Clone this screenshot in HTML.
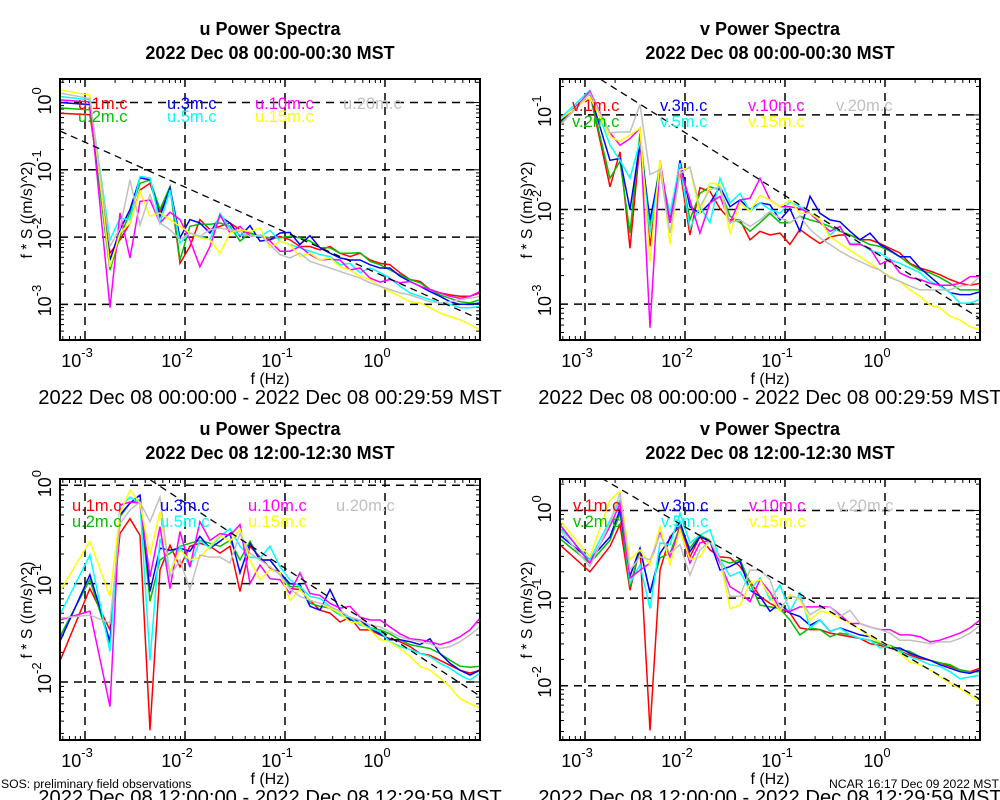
<!DOCTYPE html>
<html><head><meta charset="utf-8"><style>
html,body{margin:0;padding:0;background:#fff;}
svg{display:block;font-family:"Liberation Sans",Arial,sans-serif;}
</style></head><body>
<svg id="chart" width="1000" height="800" viewBox="0 0 1000 800">
<text x="1" y="788" font-size="12.2">SOS: preliminary field observations</text>
<text x="999" y="788" font-size="12.2" text-anchor="end">NCAR 16:17 Dec 09 2022 MST</text>
</svg>
<script>
// Shared frequency grid (Hz)
const freqHz = [5.6e-4,1.12e-3,1.78e-3,2.24e-3,2.82e-3,3.55e-3,4.47e-3,5.62e-3,7.08e-3,8.91e-3,0.0112,0.0141,0.0178,0.0224,0.0282,0.0355,0.0447,0.0562,0.0708,0.0891,0.112,0.141,0.178,0.224,0.282,0.355,0.447,0.562,0.708,0.891,1.12,1.41,1.78,2.24,2.82,3.55,4.47,5.62,7.08,8.91];
const seriesLabels = ["1m.c","2m.c","3m.c","5m.c","10m.c","15m.c","20m.c"];
const xTickExponents = [-3,-2,-1,0];

// Panel 1: u 00:00 (log10 of f*S)
const u00_1m=[-0.16,-0.18,-2.24,-2.04,-1.79,-1.30,-1.20,-1.64,-1.25,-2.39,-2.14,-1.74,-1.89,-1.84,-1.79,-1.89,-1.94,-1.99,-2.04,-1.99,-2.04,-2.14,-2.14,-2.19,-2.14,-2.24,-2.29,-2.24,-2.34,-2.39,-2.41,-2.53,-2.63,-2.66,-2.78,-2.83,-2.86,-2.88,-2.88,-2.83];
const u00_2m=[-0.08,-0.11,-2.49,-1.99,-1.64,-1.20,-1.15,-1.59,-1.25,-2.34,-1.84,-1.81,-1.81,-1.79,-1.84,-2.06,-1.94,-1.99,-2.01,-2.01,-1.99,-2.01,-2.06,-2.16,-2.16,-2.24,-2.24,-2.23,-2.36,-2.41,-2.49,-2.56,-2.63,-2.68,-2.78,-2.86,-2.91,-2.96,-2.98,-2.93];
const u00_3m=[0.00,-0.03,-2.34,-1.89,-1.59,-1.12,-1.15,-1.69,-1.27,-2.01,-1.74,-1.79,-1.94,-1.69,-1.79,-1.99,-1.83,-2.06,-2.04,-1.94,-1.93,-2.11,-1.98,-2.16,-2.24,-2.31,-2.34,-2.34,-2.41,-2.46,-2.46,-2.58,-2.66,-2.73,-2.81,-2.88,-2.96,-3.00,-3.00,-2.98];
const u00_5m=[0.09,0.04,-2.04,-1.72,-1.74,-1.10,-1.12,-1.79,-1.30,-2.09,-1.94,-1.99,-2.04,-1.65,-1.87,-1.97,-1.97,-1.99,-1.90,-2.06,-2.11,-2.16,-2.21,-2.26,-2.29,-2.41,-2.39,-2.53,-2.46,-2.53,-2.61,-2.73,-2.83,-2.88,-2.93,-2.98,-3.00,-3.05,-3.05,-3.03];
const u00_10m=[0.04,0.01,-3.05,-1.64,-2.31,-1.47,-1.45,-1.79,-1.63,-1.74,-2.04,-2.44,-2.14,-1.67,-1.94,-1.84,-1.99,-1.97,-2.06,-2.21,-2.21,-2.14,-2.26,-2.34,-2.33,-2.34,-2.49,-2.46,-2.61,-2.67,-2.63,-2.68,-2.66,-2.73,-2.78,-2.83,-2.88,-2.91,-2.88,-2.81];
const u00_15m=[0.19,0.11,-2.44,-1.94,-1.79,-1.32,-1.69,-1.64,-1.74,-1.84,-1.94,-2.01,-2.04,-2.24,-1.94,-1.89,-1.92,-1.87,-2.16,-2.06,-2.11,-2.29,-2.24,-2.34,-2.31,-2.44,-2.49,-2.58,-2.63,-2.73,-2.81,-2.88,-2.96,-2.98,-3.05,-3.13,-3.18,-3.23,-3.30,-3.38];
const u00_20m=[0.14,0.06,-2.14,-1.87,-1.15,-1.82,-1.37,-1.79,-1.89,-2.04,-1.94,-1.99,-1.89,-1.87,-1.89,-1.92,-1.99,-1.97,-2.11,-2.26,-2.31,-2.24,-2.36,-2.41,-2.46,-2.51,-2.56,-2.61,-2.68,-2.73,-2.78,-2.83,-2.86,-2.91,-2.96,-2.98,-2.96,-2.93,-2.91,-2.88];

// Panel 2: v 00:00
const v00_1m=[-1.11,-0.77,-1.76,-1.39,-2.41,-1.30,-2.39,-1.58,-2.11,-1.58,-2.27,-1.77,-1.81,-1.99,-2.11,-2.11,-2.32,-2.23,-2.27,-2.25,-2.37,-2.21,-2.29,-2.36,-2.29,-2.27,-2.27,-2.32,-2.32,-2.36,-2.41,-2.46,-2.57,-2.62,-2.65,-2.69,-2.74,-2.78,-2.80,-2.78];
const v00_2m=[-1.09,-0.77,-1.67,-1.49,-2.25,-1.19,-2.18,-1.51,-2.14,-1.55,-2.11,-1.83,-1.76,-1.79,-2.07,-2.14,-2.23,-2.14,-2.04,-2.14,-2.14,-2.07,-2.11,-2.14,-2.18,-2.23,-2.27,-2.32,-2.37,-2.39,-2.44,-2.50,-2.58,-2.64,-2.67,-2.72,-2.78,-2.85,-2.85,-2.85];
const v00_3m=[-1.07,-0.77,-1.48,-1.46,-2.00,-1.30,-2.11,-1.58,-2.14,-1.48,-1.97,-2.04,-1.93,-1.76,-1.97,-1.90,-2.00,-1.93,-1.95,-2.11,-1.99,-2.23,-1.86,-2.04,-2.11,-2.13,-2.23,-2.32,-2.25,-2.37,-2.43,-2.50,-2.50,-2.62,-2.71,-2.80,-2.88,-2.90,-2.90,-2.87];
const v00_5m=[-1.04,-0.74,-1.32,-1.48,-1.67,-1.28,-2.25,-1.58,-2.04,-1.51,-2.20,-1.97,-2.14,-1.67,-1.93,-1.83,-2.02,-1.93,-2.00,-2.04,-1.92,-1.97,-2.04,-2.11,-2.27,-2.18,-2.36,-2.36,-2.43,-2.46,-2.53,-2.57,-2.62,-2.67,-2.76,-2.81,-2.88,-2.99,-2.99,-2.95];
const v00_10m=[-1.11,-0.75,-1.19,-1.32,-1.25,-1.14,-3.25,-1.48,-2.14,-1.56,-1.90,-2.25,-1.93,-1.86,-2.14,-1.90,-1.88,-1.67,-1.90,-1.97,-1.97,-1.99,-2.04,-2.14,-2.23,-2.18,-2.37,-2.37,-2.41,-2.58,-2.53,-2.67,-2.72,-2.74,-2.78,-2.80,-2.80,-2.78,-2.71,-2.71];
const v00_15m=[-1.05,-0.81,-1.23,-1.28,-1.21,-1.14,-2.55,-1.48,-2.37,-1.58,-1.56,-2.04,-1.72,-1.74,-2.25,-1.93,-2.02,-1.85,-1.90,-1.97,-1.90,-2.04,-2.04,-2.11,-2.29,-2.36,-2.43,-2.50,-2.57,-2.64,-2.71,-2.76,-2.85,-2.92,-3.01,-3.04,-3.13,-3.17,-3.24,-3.27];
const v00_20m=[-1.11,-0.77,-1.19,-1.18,-1.18,-0.89,-1.63,-1.58,-2.25,-1.62,-1.55,-1.97,-1.79,-1.76,-2.14,-2.11,-2.18,-2.11,-2.02,-2.09,-2.14,-2.07,-2.21,-2.30,-2.37,-2.44,-2.50,-2.55,-2.60,-2.64,-2.72,-2.76,-2.81,-2.85,-2.85,-2.85,-2.85,-2.81,-2.80,-2.71];

// Panel 3: u 12:00
const u12_1m=[-1.79,-1.05,-1.47,-0.49,-0.34,-0.51,-2.49,-0.86,-0.61,-0.83,-0.62,-0.59,-0.62,-0.69,-0.62,-1.08,-0.62,-0.73,-0.84,-0.89,-1.05,-1.06,-1.17,-1.27,-1.30,-1.39,-1.34,-1.47,-1.47,-1.52,-1.56,-1.59,-1.64,-1.71,-1.73,-1.78,-1.83,-1.88,-1.91,-1.88];
const u12_2m=[-1.54,-0.96,-1.61,-0.32,-0.18,-0.15,-1.18,-0.76,-0.69,-0.62,-0.59,-0.56,-0.59,-0.62,-0.56,-0.76,-0.57,-0.76,-0.76,-0.89,-1.03,-1.03,-1.20,-1.23,-1.25,-1.32,-1.35,-1.40,-1.45,-1.47,-1.51,-1.57,-1.62,-1.64,-1.66,-1.71,-1.78,-1.84,-1.85,-1.84];
const u12_3m=[-1.59,-0.91,-1.59,-0.30,-0.18,-0.10,-1.08,-0.64,-0.66,-0.64,-0.67,-0.52,-0.64,-0.57,-0.49,-0.89,-0.59,-0.76,-0.76,-0.89,-1.00,-1.01,-1.23,-1.27,-1.06,-1.27,-1.37,-1.37,-1.45,-1.51,-1.57,-1.57,-1.59,-1.62,-1.56,-1.71,-1.81,-1.88,-1.93,-1.88];
const u12_5m=[-1.32,-0.71,-1.69,-0.22,-0.12,-0.18,-1.78,-0.54,-0.89,-0.62,-0.83,-0.56,-0.64,-0.52,-0.44,-0.62,-0.73,-0.74,-0.62,-0.83,-0.96,-1.03,-1.13,-1.15,-1.23,-1.32,-1.34,-1.42,-1.45,-1.49,-1.59,-1.64,-1.67,-1.71,-1.74,-1.81,-1.86,-1.93,-1.98,-1.91];
const u12_10m=[-1.37,-1.28,-2.25,-0.20,-0.17,-0.18,-0.93,-0.42,-1.05,-0.47,-0.83,-0.37,-0.56,-0.49,-0.51,-0.40,-1.00,-0.81,-0.95,-0.96,-1.10,-0.89,-1.10,-1.12,-1.20,-1.25,-1.23,-1.34,-1.37,-1.37,-1.44,-1.51,-1.56,-1.57,-1.59,-1.62,-1.59,-1.54,-1.47,-1.35];
const u12_15m=[-1.08,-0.57,-1.13,-0.28,-0.05,-0.18,-0.71,-0.27,-0.88,-0.66,-0.76,-0.73,-0.62,-0.51,-0.57,-0.45,-0.76,-0.96,-0.86,-0.89,-1.17,-1.06,-1.17,-1.20,-1.25,-1.30,-1.39,-1.40,-1.47,-1.57,-1.59,-1.66,-1.74,-1.84,-1.88,-1.96,-2.05,-2.17,-2.22,-2.27];
const u12_20m=[-1.35,-1.32,-1.40,-0.39,-0.25,-0.17,-0.37,-0.12,-0.93,-0.76,-1.06,-0.71,-0.73,-0.73,-0.79,-0.49,-0.69,-0.76,-0.83,-0.91,-1.05,-1.13,-1.17,-1.20,-1.23,-1.28,-1.34,-1.37,-1.42,-1.44,-1.49,-1.54,-1.57,-1.59,-1.61,-1.66,-1.64,-1.59,-1.52,-1.44];

// Panel 4: v 12:00
const v12_1m=[-0.39,-0.70,-0.41,-0.16,-0.91,-0.43,-2.51,-0.68,-0.30,-0.18,-0.53,-0.30,-0.45,-0.53,-0.54,-0.64,-0.81,-0.98,-1.06,-1.12,-1.17,-1.34,-1.36,-1.36,-1.40,-1.42,-1.44,-1.46,-1.52,-1.54,-1.57,-1.61,-1.65,-1.69,-1.71,-1.74,-1.78,-1.82,-1.84,-1.80];
const v12_2m=[-0.32,-0.60,-0.34,-0.03,-0.87,-0.43,-0.94,-0.54,-0.49,-0.18,-0.43,-0.28,-0.34,-0.56,-0.60,-0.56,-0.83,-1.08,-1.10,-1.12,-1.25,-1.42,-1.34,-1.36,-1.44,-1.40,-1.42,-1.46,-1.48,-1.52,-1.54,-1.59,-1.61,-1.67,-1.71,-1.74,-1.76,-1.82,-1.84,-1.84];
const v12_3m=[-0.28,-0.56,-0.30,0.01,-0.75,-0.43,-0.94,-0.49,-0.32,-0.13,-0.47,-0.30,-0.35,-0.68,-0.64,-0.58,-0.91,-0.98,-1.15,-1.06,-1.17,-1.21,-1.31,-1.25,-1.38,-1.34,-1.38,-1.42,-1.44,-1.50,-1.57,-1.57,-1.63,-1.67,-1.71,-1.76,-1.80,-1.84,-1.86,-1.82];
const v12_5m=[-0.20,-0.56,-0.11,0.12,-0.83,-0.62,-1.12,-0.37,-0.39,-0.03,-0.37,-0.28,-0.22,-0.56,-0.75,-0.70,-0.91,-0.77,-1.02,-0.85,-1.15,-0.94,-1.34,-1.25,-1.38,-1.34,-1.42,-1.46,-1.48,-1.57,-1.55,-1.61,-1.67,-1.71,-1.76,-1.78,-1.84,-1.92,-1.90,-1.88];
const v12_10m=[-0.16,-0.60,-0.18,0.08,-0.77,-0.68,-0.60,-0.26,-0.53,-0.20,-0.60,-0.37,-0.34,-0.60,-0.87,-0.94,-1.04,-0.79,-0.93,-1.12,-1.15,-1.10,-1.10,-1.10,-1.10,-1.19,-1.29,-1.29,-1.33,-1.36,-1.36,-1.42,-1.42,-1.44,-1.50,-1.48,-1.44,-1.40,-1.34,-1.25];
const v12_15m=[-0.11,-0.53,0.12,0.22,-0.56,-0.45,-0.62,-0.18,-0.62,-0.22,-0.56,-0.53,-0.34,-0.56,-1.12,-1.08,-0.83,-0.79,-0.98,-1.15,-0.96,-1.02,-1.25,-1.15,-1.17,-1.23,-1.29,-1.36,-1.44,-1.50,-1.55,-1.63,-1.73,-1.76,-1.82,-1.90,-1.97,-2.03,-2.11,-2.18];
const v12_20m=[-0.22,-0.64,-0.14,0.20,-0.68,-0.53,-0.56,-0.28,-0.49,-0.39,-0.74,-0.45,-0.35,-0.56,-0.98,-0.98,-0.68,-0.68,-0.79,-1.12,-0.98,-1.00,-1.19,-1.12,-1.10,-1.21,-1.14,-1.29,-1.33,-1.36,-1.40,-1.48,-1.48,-1.50,-1.52,-1.50,-1.50,-1.46,-1.40,-1.31];

const colors=["#ff0000","#00c000","#0000ff","#00ffff","#ff00ff","#ffff00","#c0c0c0"];
const NS="http://www.w3.org/2000/svg";
const svg=document.getElementById('chart');
function mk(tag,attrs,parent){const e=document.createElementNS(NS,tag);for(const k in attrs)e.setAttribute(k,attrs[k]);(parent||svg).appendChild(e);return e;}

const panels=[
 {id:"u-0000",prefix:"u",title2:"2022 Dec 08 00:00-00:30 MST",sub:"2022 Dec 08 00:00:00 - 2022 Dec 08 00:29:59 MST",ox:0,oy:0,yTop:0.35,yBot:-3.53,yTicks:[0,-1,-2,-3],refA:-2.59,
  series:[u00_1m,u00_2m,u00_3m,u00_5m,u00_10m,u00_15m,u00_20m],legX:[78,167,255,343],legY:[108,121]},
 {id:"v-0000",prefix:"v",title2:"2022 Dec 08 00:00-00:30 MST",sub:"2022 Dec 08 00:00:00 - 2022 Dec 08 00:29:59 MST",ox:500,oy:0,yTop:-0.62,yBot:-3.38,yTicks:[-1,-2,-3],refA:-2.52,
  series:[v00_1m,v00_2m,v00_3m,v00_5m,v00_10m,v00_15m,v00_20m],legX:[72,160,248,336],legY:[110,126]},
 {id:"u-1200",prefix:"u",title2:"2022 Dec 08 12:00-12:30 MST",sub:"2022 Dec 08 12:00:00 - 2022 Dec 08 12:29:59 MST",ox:0,oy:400,yTop:0.064,yBot:-2.59,yTicks:[0,-1,-2],refA:-1.51,
  series:[u12_1m,u12_2m,u12_3m,u12_5m,u12_10m,u12_15m,u12_20m],legX:[72,160,248,336],legY:[110,126]},
 {id:"v-1200",prefix:"v",title2:"2022 Dec 08 12:00-12:30 MST",sub:"2022 Dec 08 12:00:00 - 2022 Dec 08 12:29:59 MST",ox:500,oy:400,yTop:0.36,yBot:-2.62,yTicks:[0,-1,-2],refA:-1.52,
  series:[v12_1m,v12_2m,v12_3m,v12_5m,v12_10m,v12_15m,v12_20m],legX:[73,161,249,337],legY:[110,126]}
];

const X0=60,X1=480,Y0=79,Y1=340,LX0=-3.25,LX1=0.95;

panels.forEach((p,pi)=>{
  const g=mk('g',{transform:`translate(${p.ox},${p.oy})`});
  
  
  const xs=lf=>X0+(lf-LX0)/(LX1-LX0)*(X1-X0);
  const ys=l=>Y0+(p.yTop-l)/(p.yTop-p.yBot)*(Y1-Y0);
  let t=mk('text',{x:270,y:35,'font-size':18,'font-weight':'bold','text-anchor':'middle'},g);t.textContent=p.prefix+' Power Spectra';
  
  t=mk('text',{x:270,y:59,'font-size':18,'font-weight':'bold','text-anchor':'middle'},g);t.textContent=p.title2;
  
  const cid='clip'+pi;
  const cp=mk('clipPath',{id:cid},g);mk('rect',{x:X0,y:Y0,width:X1-X0,height:Y1-Y0},cp);
  xTickExponents.forEach(e=>{
    const x=xs(e);
    const l=mk('line',{x1:x,x2:x,y1:Y0,y2:Y1,stroke:'#000','stroke-width':1.5,'stroke-dasharray':'8,6'},g);
    
    const tx=mk('text',{x:x-8,y:367,'font-size':18,'text-anchor':'middle'},g);
    
    tx.appendChild(document.createTextNode('10'));
    const ts=mk('tspan',{'font-size':13,dy:-10},tx);ts.textContent=String(e);
  });
  p.yTicks.forEach(e=>{
    const y=ys(e);
    const l=mk('line',{x1:X0,x2:X1,y1:y,y2:y,stroke:'#000','stroke-width':1.5,'stroke-dasharray':'8,6'},g);
    
    const tx=mk('text',{transform:`translate(51,${y+12}) rotate(-90)`,'font-size':18},g);
    
    tx.appendChild(document.createTextNode('10'));
    const ts=mk('tspan',{'font-size':13,dy:-10},tx);ts.textContent=String(e);
  });
  for(let d=-4;d<=1;d++){for(let m=1;m<10;m++){
    const lf=d+Math.log10(m);if(lf<LX0||lf>LX1)continue;
    const x=xs(lf),len=m===1?8:4;
    mk('line',{x1:x,x2:x,y1:Y1,y2:Y1-len,stroke:'#000','stroke-width':1},g);
    mk('line',{x1:x,x2:x,y1:Y0,y2:Y0+len,stroke:'#000','stroke-width':1},g);
  }}
  for(let d=-4;d<=1;d++){for(let m=1;m<10;m++){
    const l=d+Math.log10(m);if(l<p.yBot||l>p.yTop)continue;
    const y=ys(l),len=m===1?8:4;
    mk('line',{x1:X0,x2:X0+len,y1:y,y2:y,stroke:'#000','stroke-width':1},g);
    mk('line',{x1:X1,x2:X1-len,y1:y,y2:y,stroke:'#000','stroke-width':1},g);
  }}
  const sg=mk('g',{'clip-path':`url(#${cid})`},g);
  p.series.forEach((arr,si)=>{
    const d=arr.map((v,i)=>(i?'L':'M')+xs(Math.log10(freqHz[i])).toFixed(1)+','+ys(v).toFixed(1)).join(' ');
    const path=mk('path',{d:d,fill:'none',stroke:colors[si],'stroke-width':1.5,'stroke-linejoin':'miter'},sg);
    
    
  });
  const rl=mk('line',{x1:xs(LX0),y1:ys(p.refA-(2/3)*LX0),x2:xs(LX1),y2:ys(p.refA-(2/3)*LX1),stroke:'#000','stroke-width':1.3,'stroke-dasharray':'7,5'},sg);
  
  seriesLabels.forEach((lab,si)=>{
    const cx=[0,0,1,1,2,2,3][si],cy=[0,1,0,1,0,1,0][si];
    const lt=mk('text',{x:p.legX[cx],y:p.legY[cy]+1,'font-size':16.5,fill:colors[si]},g);
    lt.textContent=p.prefix+'.'+lab;
    
  });
  const fr=mk('rect',{x:X0,y:Y0,width:X1-X0,height:Y1-Y0,fill:'none',stroke:'#000','stroke-width':2},g);
  
  const xt=mk('text',{x:270,y:384,'font-size':16,'text-anchor':'middle'},g);xt.textContent='f (Hz)';
  
  const yt=mk('text',{transform:`translate(32,210) rotate(-90)`,'font-size':15.8,'text-anchor':'middle'},g);yt.textContent='f * S ((m/s)^2)';
  
  const st=mk('text',{x:270,y:404,'font-size':20.2,'text-anchor':'middle'},g);st.textContent=p.sub;
  
});
</script>
</body></html>
